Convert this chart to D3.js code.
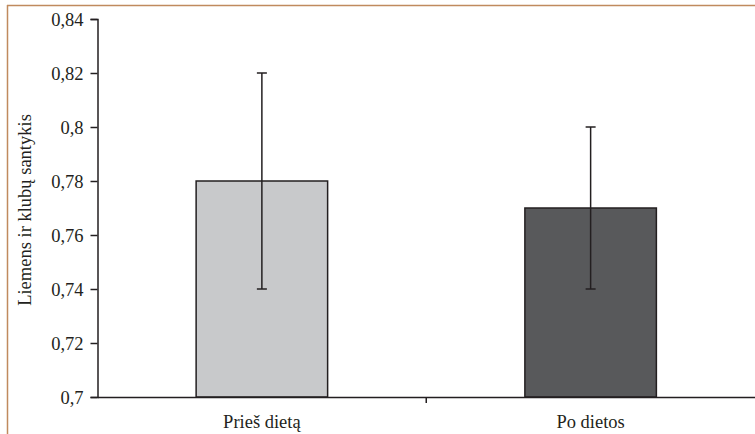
<!DOCTYPE html>
<html><head><meta charset="utf-8">
<script src="https://cdn.jsdelivr.net/npm/d3@7"></script>
<style>body{margin:0;background:#fff}svg{display:block}</style>
</head><body>
<svg id="c" width="755" height="434"></svg>
<script>
const categories = ["Prieš dietą", "Po dietos"];
const values = [0.78, 0.77];
const errLow = [0.74, 0.74];
const errHigh = [0.82, 0.80];
const yTicks = [0.7, 0.72, 0.74, 0.76, 0.78, 0.8, 0.82, 0.84];
const yLabel = "Liemens ir klubų santykis";
const colors = ["#c8c9cb", "#58595b"];

const svg = d3.select("#c");
const m = {l: 97.5, r: 755, t: 19, b: 397};
const ink = "#231f20";
const setFont = sel => sel.style("font-family", '"Liberation Serif"').style("font-size", "18.5px").style("fill", ink);

// outer frame
svg.append("line").attr("x1", 7).attr("x2", 755).attr("y1", 5.5).attr("y2", 5.5)
  .attr("stroke", "#c08a5e").attr("stroke-width", 1.5);
svg.append("line").attr("x1", 7.5).attr("x2", 7.5).attr("y1", 5).attr("y2", 434)
  .attr("stroke", "#c08a5e").attr("stroke-width", 1.5);

const x = d3.scaleBand().domain(categories).range([m.l, m.r]).paddingInner(0).paddingOuter(0);
const y = d3.scaleLinear().domain([0.7, 0.84]).range([m.b, m.t]);
const bw = x.bandwidth() * 0.4;

// bars
svg.selectAll("rect.bar").data(categories).join("rect")
  .attr("x", d => x(d) + x.bandwidth() / 2 - bw / 2)
  .attr("y", (d, i) => y(values[i]))
  .attr("width", bw)
  .attr("height", (d, i) => y(0.7) - y(values[i]))
  .attr("fill", (d, i) => colors[i])
  .attr("stroke", ink).attr("stroke-width", 1.5);

// error bars
const g = svg.append("g").attr("stroke", ink).attr("stroke-width", 1.5);
categories.forEach((c, i) => {
  const cx = x(c) + x.bandwidth() / 2;
  g.append("line").attr("x1", cx).attr("x2", cx).attr("y1", y(errHigh[i])).attr("y2", y(errLow[i]));
  g.append("line").attr("x1", cx - 5).attr("x2", cx + 5).attr("y1", y(errHigh[i])).attr("y2", y(errHigh[i]));
  g.append("line").attr("x1", cx - 5).attr("x2", cx + 5).attr("y1", y(errLow[i])).attr("y2", y(errLow[i]));
});

// y axis
const yAxis = d3.axisLeft(y).tickValues(yTicks).tickSizeOuter(0).tickSize(7).tickPadding(7)
  .tickFormat(d => d3.format("~g")(d).replace(".", ","));
const ya = svg.append("g").attr("transform", `translate(${m.l},0)`).call(yAxis);
ya.select(".domain").attr("stroke", ink).attr("stroke-width", 1.5);
ya.selectAll(".tick line").attr("stroke", ink).attr("stroke-width", 1.5);
ya.selectAll(".tick text").call(setFont).attr("dy", "0.36em");

// x axis
const xa = svg.append("g").attr("transform", `translate(0,${m.b})`)
  .call(d3.axisBottom(x).tickSize(0).tickSizeOuter(0).tickPadding(18));
xa.select(".domain").attr("stroke", ink).attr("stroke-width", 1.5);
xa.selectAll(".tick text").call(setFont);
// category boundary tick
svg.append("line").attr("x1", x(categories[1])).attr("x2", x(categories[1]))
  .attr("y1", m.b).attr("y2", m.b + 6).attr("stroke", ink).attr("stroke-width", 1.5);

// y label
svg.append("text").attr("transform", `translate(31,${(m.t + m.b) / 2 + 2}) rotate(-90)`)
  .attr("text-anchor", "middle").call(setFont).text(yLabel);
</script>
</body></html>
